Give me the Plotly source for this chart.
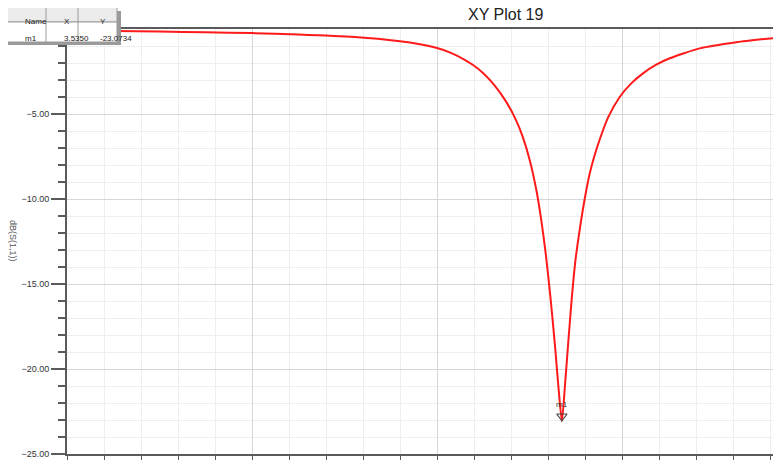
import plotly.graph_objects as go

# ---- data ----
freq_ghz = [3.00, 3.05, 3.10, 3.15, 3.20, 3.25, 3.311, 3.36, 3.38, 3.40, 3.415, 3.429, 3.439,
            3.450, 3.462, 3.475, 3.4858, 3.4927, 3.5002, 3.5075, 3.5129, 3.5175, 3.5225,
            3.5275, 3.5315, 3.535, 3.5383, 3.5418, 3.5456, 3.5497, 3.5540, 3.5600, 3.5651,
            3.5700, 3.5759, 3.5850, 3.5975, 3.6100, 3.6227, 3.6370, 3.6516, 3.684, 3.7237,
            3.7716]
s11_db = [-0.10, -0.12, -0.15, -0.19, -0.24, -0.32, -0.47, -0.72, -0.88, -1.12, -1.40, -1.78,
          -2.12, -2.60, -3.30, -4.30, -5.40, -6.35, -7.70, -9.50, -11.3, -13.2, -15.7,
          -18.6, -21.2, -23.07, -21.0, -18.5, -15.9, -13.6, -11.9, -9.9, -8.5,
          -7.5, -6.5, -5.2, -4.0, -3.2, -2.61, -2.1, -1.72, -1.14, -0.78,
          -0.49]

marker_name = "m1"
marker_x = 3.5350
marker_y = -23.0734
table_header = ["Name", "X", "Y"]
table_row = [marker_name, f"{marker_x:.4f}", f"{marker_y:.4f}"]
title_text = "XY Plot 19"
y_title = "dB(S(1,1))"

OFF = 8                     # page body margin in the browser
W, H = 781, 465
ML, MT = 59, 21
PW, PH = 714, 425
MR = W - ML - PW
MB = H - MT - PH

def px(x):  # page pixel -> paper x
    return (x - OFF - ML) / PW

def py(y):  # page pixel -> paper y
    return (MT + PH - (y - OFF)) / PH

fig = go.Figure()
fig.add_trace(go.Scatter(x=freq_ghz, y=s11_db, mode="lines",
                         line=dict(color="#ff1a1a", width=2, shape="spline", smoothing=0.6),
                         hoverinfo="skip", showlegend=False))

px_per_db = PH / 25.0
fig.add_trace(go.Scatter(x=[marker_x], y=[marker_y + 5 / px_per_db], mode="markers",
                         marker=dict(symbol="triangle-down-open", size=9,
                                     color="#444444", line=dict(width=1.2, color="#444444")),
                         hoverinfo="skip", showlegend=False))
FONT = "Liberation Sans"
annotations = [
    dict(x=marker_x, y=marker_y, xref="x", yref="y", text=marker_name, showarrow=False,
         yshift=17, font=dict(size=8, color="#333333", family=FONT)),
    dict(x=px(505), y=py(15), xref="paper", yref="paper", text=title_text, showarrow=False,
         xanchor="center", yanchor="middle",
         font=dict(size=16, color="#222222", family=FONT)),
    dict(x=px(13), y=py(241), xref="paper", yref="paper", text=y_title, showarrow=False,
         textangle=90, xanchor="center", yanchor="middle",
         font=dict(size=9, color="#555555", family=FONT)),
]

shapes = []
shapes.append(dict(type="rect", xref="paper", yref="paper", x0=px(4), x1=px(121),
                   y0=py(45), y1=py(11), fillcolor="#9a9a9a", line=dict(width=0), layer="above"))
shapes.append(dict(type="rect", xref="paper", yref="paper", x0=px(0), x1=px(117),
                   y0=py(22), y1=py(7), fillcolor="#ebebeb", line=dict(color="#9a9a9a", width=1),
                   layer="above"))
shapes.append(dict(type="rect", xref="paper", yref="paper", x0=px(0), x1=px(117),
                   y0=py(42), y1=py(22), fillcolor="#ffffff", line=dict(color="#9a9a9a", width=1),
                   layer="above"))
col_edges = [0, 46, 78, 117]
for cx in col_edges[1:-1]:
    shapes.append(dict(type="line", xref="paper", yref="paper", x0=px(cx), x1=px(cx),
                       y0=py(42), y1=py(7), line=dict(color="#9a9a9a", width=1), layer="above"))
for i in range(3):
    cxm = (col_edges[i] + col_edges[i + 1]) / 2
    annotations.append(dict(x=px(cxm), y=py(15), xref="paper", yref="paper", text=table_header[i],
                            showarrow=False, font=dict(size=8, color="#222222", family=FONT)))
    annotations.append(dict(x=px(cxm), y=py(32.5), xref="paper", yref="paper", text=table_row[i],
                            showarrow=False, font=dict(size=8, color="#222222", family=FONT)))

axis_common = dict(showline=True, linecolor="#5a5a5a", linewidth=2, mirror=True,
                   zeroline=False, ticks="outside", tickcolor="#5a5a5a",
                   tickfont=dict(size=9, color="#333333", family=FONT),
                   gridcolor="#d6d6d6", gridwidth=1)

fig.update_layout(
    width=W, height=H,
    margin=dict(l=ML, r=MR, t=MT, b=MB, autoexpand=False),
    paper_bgcolor="white", plot_bgcolor="white",
    showlegend=False,
    shapes=shapes, annotations=annotations,
    xaxis=dict(axis_common, range=[3.0, 3.0 + PW / 925.0], tick0=3.0, dtick=0.2,
               tickformat=".2f", ticklen=4, tickwidth=1,
               minor=dict(dtick=0.04, ticks="outside", ticklen=4, tickcolor="#5a5a5a",
                          showgrid=True, gridcolor="#eeeeee", gridwidth=1)),
    yaxis=dict(axis_common, range=[-25, 0], tick0=0, dtick=5, tickformat=".2f",
               labelalias={"0.00": " "}, ticklen=14, tickwidth=1.5,
               minor=dict(dtick=1, ticks="outside", ticklen=7, tickcolor="#5a5a5a",
                          showgrid=True, gridcolor="#eeeeee", gridwidth=1)),
)

fig.write_html("out.html")
